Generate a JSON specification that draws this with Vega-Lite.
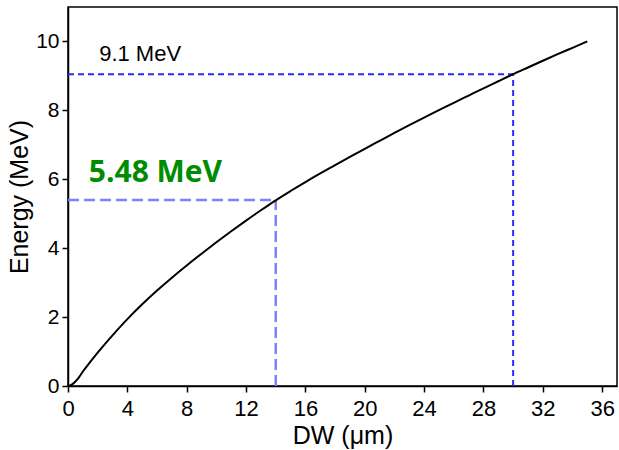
{
  "$schema": "https://vega.github.io/schema/vega-lite/v6.json",
  "width": 549,
  "height": 379,
  "autosize": "none",
  "padding": {"left": 68, "top": 7, "right": 2, "bottom": 64},
  "background": "white",
  "config": {
    "view": {"stroke": "black", "strokeWidth": 1.5},
    "font": "Liberation Sans",
    "axis": {
      "grid": false,
      "domainColor": "black",
      "domainWidth": 1.5,
      "tickColor": "black",
      "tickWidth": 1.5,
      "labelColor": "black",
      "labelFont": "Liberation Sans",
      "labelFontSize": 21,
      "titleFont": "Liberation Sans",
      "titleFontSize": 25,
      "titleFontWeight": "normal",
      "titleColor": "black",
      "labelOverlap": false,
      "labelFlush": false
    }
  },
  "datasets": {
    "curve": [
      {"DW": 0, "E": 0},
      {"DW": 0.25, "E": 0.04},
      {"DW": 0.5, "E": 0.13},
      {"DW": 0.75, "E": 0.26},
      {"DW": 1, "E": 0.42},
      {"DW": 1.5, "E": 0.7},
      {"DW": 2, "E": 0.97},
      {"DW": 2.5, "E": 1.225},
      {"DW": 3, "E": 1.47},
      {"DW": 4, "E": 1.94},
      {"DW": 5, "E": 2.37},
      {"DW": 6, "E": 2.77},
      {"DW": 7, "E": 3.145},
      {"DW": 8, "E": 3.5},
      {"DW": 9, "E": 3.84},
      {"DW": 10, "E": 4.17},
      {"DW": 11, "E": 4.49},
      {"DW": 12, "E": 4.8},
      {"DW": 13, "E": 5.1},
      {"DW": 14, "E": 5.39},
      {"DW": 15, "E": 5.66},
      {"DW": 16, "E": 5.92},
      {"DW": 17, "E": 6.17},
      {"DW": 18, "E": 6.41},
      {"DW": 19, "E": 6.65},
      {"DW": 20, "E": 6.885},
      {"DW": 21, "E": 7.115},
      {"DW": 22, "E": 7.345},
      {"DW": 23, "E": 7.57},
      {"DW": 24, "E": 7.79},
      {"DW": 25, "E": 8.005},
      {"DW": 26, "E": 8.22},
      {"DW": 27, "E": 8.43},
      {"DW": 28, "E": 8.64},
      {"DW": 29, "E": 8.845},
      {"DW": 30, "E": 9.05},
      {"DW": 31, "E": 9.245},
      {"DW": 32, "E": 9.44},
      {"DW": 33, "E": 9.63},
      {"DW": 34, "E": 9.815},
      {"DW": 35, "E": 10.0}
    ],
    "guideA": [
      {"x": 0, "x2": 30, "y": 9.05, "y2": 9.05},
      {"x": 30, "x2": 30, "y": 0, "y2": 9.05}
    ],
    "guideB": [
      {"x": 0, "x2": 14, "y": 5.4, "y2": 5.4},
      {"x": 14, "x2": 14, "y": 0, "y2": 5.4}
    ],
    "labelA": [{"x": 2.1, "y": 9.42, "t": "9.1 MeV"}],
    "labelB": [{"x": 1.4, "y": 5.91, "t": "5.48 MeV"}]
  },
  "layer": [
    {
      "data": {"name": "guideB"},
      "mark": {"type": "rule", "color": "#8080ff", "strokeWidth": 2.5, "strokeDash": [11, 5]},
      "encoding": {
        "x": {"field": "x", "type": "quantitative", "scale": {"domain": [0, 37]}},
        "x2": {"field": "x2"},
        "y": {"field": "y", "type": "quantitative", "scale": {"domain": [0, 11]}},
        "y2": {"field": "y2"}
      }
    },
    {
      "data": {"name": "guideA"},
      "mark": {"type": "rule", "color": "#2a2aff", "strokeWidth": 2, "strokeDash": [6, 4]},
      "encoding": {
        "x": {"field": "x", "type": "quantitative"},
        "x2": {"field": "x2"},
        "y": {"field": "y", "type": "quantitative"},
        "y2": {"field": "y2"}
      }
    },
    {
      "data": {"name": "curve"},
      "mark": {"type": "line", "color": "black", "strokeWidth": 2, "interpolate": "monotone"},
      "encoding": {
        "x": {
          "field": "DW", "type": "quantitative", "title": "DW (μm)",
          "scale": {"domain": [0, 37], "nice": false, "zero": false},
          "axis": {
            "values": [0,2,4,6,8,10,12,14,16,18,20,22,24,26,28,30,32,34,36],
            "labelExpr": "datum.value % 4 === 0 ? datum.label : ''",
            "tickSize": {"condition": {"test": "datum.value % 4 === 0", "value": 6}, "value": 4},
            "labelFontSize": 22,
            "labelPadding": 6,
            "titlePadding": 4
          }
        },
        "y": {
          "field": "E", "type": "quantitative", "title": "Energy (MeV)",
          "scale": {"domain": [0, 11], "nice": false, "zero": false},
          "axis": {
            "values": [0,1,2,3,4,5,6,7,8,9,10],
            "labelExpr": "datum.value % 2 === 0 ? datum.label : ''",
            "tickSize": {"condition": {"test": "datum.value % 2 === 0", "value": 6}, "value": 4},
            "labelPadding": 3,
            "titlePadding": 3
          }
        }
      }
    },
    {
      "data": {"name": "labelA"},
      "mark": {"type": "text", "align": "left", "baseline": "alphabetic", "fontSize": 22, "font": "Liberation Sans", "color": "black"},
      "encoding": {
        "x": {"field": "x", "type": "quantitative"},
        "y": {"field": "y", "type": "quantitative"},
        "text": {"field": "t"}
      }
    },
    {
      "data": {"name": "labelB"},
      "mark": {"type": "text", "align": "left", "baseline": "alphabetic", "fontSize": 30, "font": "Open Sans", "fontWeight": "bold", "color": "#008c00"},
      "encoding": {
        "x": {"field": "x", "type": "quantitative"},
        "y": {"field": "y", "type": "quantitative"},
        "text": {"field": "t"}
      }
    }
  ]
}
